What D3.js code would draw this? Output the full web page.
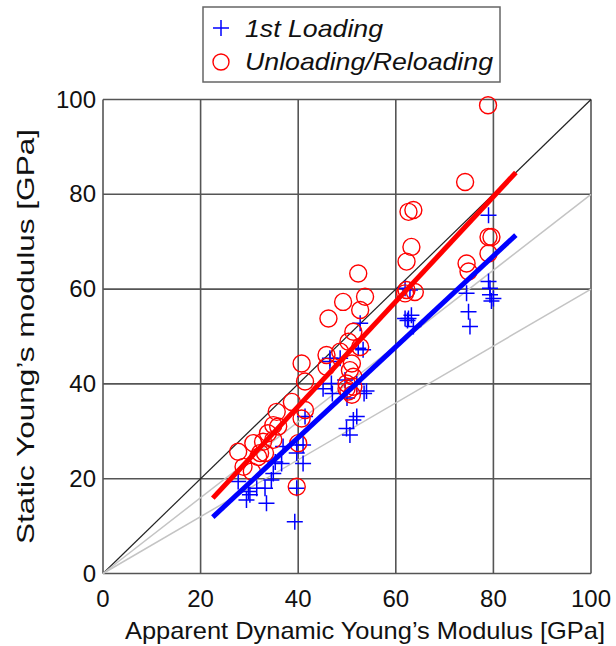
<!DOCTYPE html>
<html>
<head>
<meta charset="utf-8">
<script src="https://cdn.jsdelivr.net/npm/d3@7"></script>
<style>
  body { margin: 0; background: #fff; }
  text { font-family: "Liberation Sans", Arial, sans-serif; }
</style>
</head>
<body>
<div id="chart"></div>
<script>
const width = 616;
const height = 646;
const margin = {top: 99.5, right: 25, bottom: 72.5, left: 103};

// 1st loading (blue crosses)
const loadX = [27.7, 29.4, 30.1, 29.8, 31.5, 33.2, 33.5, 34.5, 34.9, 35.3, 36.6, 36.9, 39.3, 39.7, 39.7, 39.7,
    41.0, 41.0, 41.4, 45.1, 46.5, 46.5, 46.8, 47.0, 48.6, 49.6, 49.9, 50.6, 51.3, 52.0, 50.0, 52.0, 52.3, 53.3,
    52.7, 53.5, 54.0, 61.9, 62.4, 62.6, 63.2, 63.6, 62.9, 61.9, 74.5, 74.9, 75.2, 79.0, 79.0, 79.3, 79.3, 80.0, 79.6];
const loadY = [19.4, 15.5, 16.6, 17.3, 18.0, 18.0, 14.8, 19.7, 21.1, 23.5, 23.2, 26.8, 10.9, 18.0, 25.4, 27.1,
    23.2, 27.1, 33.1, 39.0, 44.7, 45.4, 40.1, 38.0, 45.4, 40.8, 30.6, 29.2, 32.4, 33.1, 37.0, 40.0, 47.5, 47.2,
    52.8, 38.0, 38.5, 53.8, 53.4, 53.8, 54.5, 52.1, 59.8, 60.2, 59.1, 55.2, 52.1, 75.6, 61.6, 60.2, 58.8, 58.0, 57.5];

// unloading / reloading (red circles)
const reloadX = [27.7, 28.8, 30.5, 30.8, 31.8, 32.2, 33.2, 32.8, 33.8, 34.9, 34.9, 35.6, 35.9, 38.7, 39.7, 40.0,
    40.7, 41.4, 40.7, 41.4, 45.8, 45.8, 46.2, 48.6, 49.2, 49.9, 49.9, 50.3, 50.3, 50.6, 51.0, 51.0, 51.3, 51.3,
    51.3, 52.3, 52.7, 52.7, 53.7, 62.2, 62.6, 63.6, 63.2, 62.2, 63.9, 61.9, 74.2, 74.5, 74.9, 79.0, 79.0, 79.6, 78.9];
const reloadY = [25.7, 22.5, 21.5, 27.5, 24.6, 25.4, 25.4, 27.8, 29.6, 28.2, 31.3, 34.1, 31.0, 36.2, 18.3, 27.5,
    32.7, 34.5, 44.3, 40.5, 46.1, 43.6, 53.8, 46.8, 57.3, 40.1, 39.0, 48.9, 38.4, 42.9, 44.3, 37.7, 51.0, 41.5,
    39.4, 63.3, 47.8, 55.6, 58.4, 65.8, 76.3, 76.7, 68.9, 59.8, 59.4, 59.1, 82.6, 65.4, 63.7, 67.5, 71.0, 71.0, 98.8];

// regression lines, end points [x, y]
const loadFit = [[22.5, 11.9], [84.6, 71.4]];
const reloadFit = [[22.5, 15.9], [84.6, 84.6]];

// reference ratios static / dynamic
const refSlopes = [1.0, 0.8, 0.6];

const xTicks = [0, 20, 40, 60, 80, 100];
const yTicks = [0, 20, 40, 60, 80, 100];

const legendLabels = ["1st Loading", "Unloading/Reloading"];

const svg = d3.select("#chart")
    .append("svg")
    .attr("width", width)
    .attr("height", height);

const x = d3.scaleLinear().domain([0, 100]).range([margin.left, width - margin.right]);
const y = d3.scaleLinear().domain([0, 100]).range([height - margin.bottom, margin.top]);

// grid
const grid = svg.append("g");
grid.selectAll(".vx").data(xTicks).join("line")
    .attr("x1", d => x(d)).attr("x2", d => x(d))
    .attr("y1", y(0)).attr("y2", y(100))
    .attr("stroke", "#555").attr("stroke-width", 1.6);
grid.selectAll(".hy").data(yTicks).join("line")
    .attr("y1", d => y(d)).attr("y2", d => y(d))
    .attr("x1", x(0)).attr("x2", x(100))
    .attr("stroke", "#555").attr("stroke-width", 1.6);

// reference lines through origin
svg.selectAll(".ref").data(refSlopes).join("line")
    .attr("x1", x(0)).attr("y1", y(0))
    .attr("x2", x(100)).attr("y2", d => y(100 * d))
    .attr("stroke", d => d === 1 ? "#222" : "#c4c4c4")
    .attr("stroke-width", d => d === 1 ? 1.2 : 1.5);

// markers
const load = d3.zip(loadX, loadY);
const reload = d3.zip(reloadX, reloadY);

svg.append("g").selectAll("path").data(load).join("path")
    .attr("d", d => `M${x(d[0]) - 8},${y(d[1])}h16M${x(d[0])},${y(d[1]) - 8}v16`)
    .attr("stroke", "#0000ff").attr("stroke-width", 1.5).attr("fill", "none");

svg.append("g").selectAll("circle").data(reload).join("circle")
    .attr("cx", d => x(d[0])).attr("cy", d => y(d[1])).attr("r", 8.5)
    .attr("stroke", "#ff0000").attr("stroke-width", 1.4).attr("fill", "none");

// fits
const line = d3.line().x(d => x(d[0])).y(d => y(d[1]));
svg.append("path").datum(loadFit).attr("d", line)
    .attr("stroke", "#0000ff").attr("stroke-width", 5).attr("fill", "none");
svg.append("path").datum(reloadFit).attr("d", line)
    .attr("stroke", "#ff0000").attr("stroke-width", 5).attr("fill", "none");

// axes labels
svg.append("g").selectAll("text").data(xTicks).join("text")
    .attr("x", d => x(d)).attr("y", 607)
    .attr("text-anchor", "middle").attr("font-size", 24).attr("fill", "#111")
    .text(d => d);
svg.append("g").selectAll("text").data(yTicks).join("text")
    .attr("x", 96).attr("y", d => y(d) + 8)
    .attr("text-anchor", "end").attr("font-size", 24).attr("fill", "#111")
    .text(d => d);

svg.append("text")
    .attr("x", 365).attr("y", 639)
    .attr("text-anchor", "middle").attr("font-size", 24).attr("fill", "#111")
    .attr("textLength", 480).attr("lengthAdjust", "spacingAndGlyphs")
    .text("Apparent Dynamic Young\u2019s Modulus [GPa]");
svg.append("text")
    .attr("transform", `translate(34,${(y(0) + y(100)) / 2}) rotate(-90)`)
    .attr("text-anchor", "middle").attr("font-size", 24).attr("fill", "#111")
    .attr("textLength", 415).attr("lengthAdjust", "spacingAndGlyphs")
    .text("Static Young\u2019s modulus [GPa]");

// legend
const lg = svg.append("g");
lg.append("rect").attr("x", 203).attr("y", 7).attr("width", 297).attr("height", 75)
    .attr("fill", "#fff").attr("stroke", "#666").attr("stroke-width", 1.5);
lg.append("path").attr("d", "M213,28h16M221,20v16")
    .attr("stroke", "#0000ff").attr("stroke-width", 1.5);
lg.append("circle").attr("cx", 221).attr("cy", 62).attr("r", 8)
    .attr("stroke", "#ff0000").attr("stroke-width", 1.4).attr("fill", "none");
lg.selectAll("text").data(legendLabels).join("text")
    .attr("x", 245).attr("y", (d, i) => 37 + i * 33)
    .attr("font-size", 24).attr("font-style", "italic").attr("fill", "#111")
    .attr("textLength", (d, i) => i === 0 ? 138 : 248).attr("lengthAdjust", "spacingAndGlyphs")
    .text(d => d);
</script>
</body>
</html>
